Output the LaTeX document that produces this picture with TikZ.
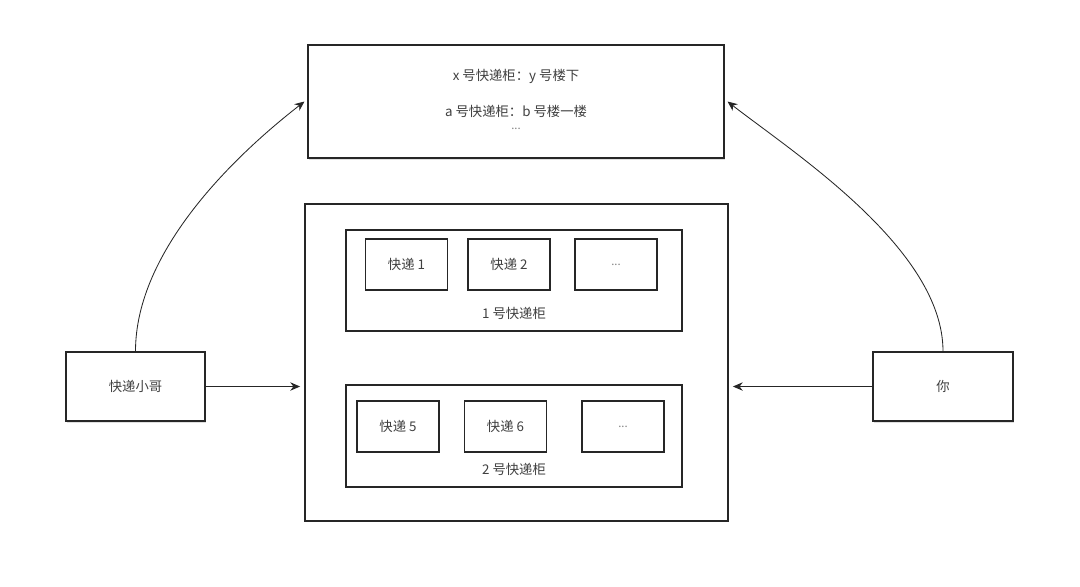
\documentclass[tikz,border=0pt]{standalone}
\usepackage{fontspec}
\setmainfont{Noto Sans CJK SC}
\usepackage{tikz}
\usetikzlibrary{shadows}
\usetikzlibrary{arrows.meta}

\begin{document}
\begin{tikzpicture}
    \tikzstyle{edge}  = [line width=0.6pt,draw=black!85]
    \tikzstyle{dedge} = [edge,-{Stealth[length=7pt,width=6pt]}]
    \tikzstyle{sbox}=[
      rectangle,
      draw=black!85,
      line width=1pt,
      fill=white,
      anchor=center,
      text=black!75,
      font=\fontsize{9.5}{11}\selectfont,
    ]
    \tikzstyle{sboxs}=[
      sbox,
      drop shadow={shadow xshift=1pt,shadow yshift=-1.5pt,fill=black!25},
    ]
    \tikzstyle{label}=[
      text=black!75,
      font=\fontsize{9.5}{11}\selectfont,
      anchor=center,
    ]
    \tikzstyle{dots}=[
      font=\fontsize{8}{9}\selectfont,
      text=black!50,
    ]

    \useasboundingbox (0,0) rectangle (27,-14.65);

    {
      \node[sboxs, minimum width=10.4cm, minimum height=2.825cm] (table) at (12.9,-2.5375) {};
      \node[label] (t1) at (12.9,-1.9) {x 号快递柜：y 号楼下};
      \node[label] (t2) at (12.9,-2.775) {a 号快递柜：b 号楼一楼};
      \node[label, dots] (t3) at (12.9,-3.22) {...};
    }

    {
      \node[sbox, minimum width=10.575cm, minimum height=7.925cm] (hub) at (12.9125,-9.0625) {};

      \node[sbox, minimum width=8.4cm, minimum height=2.525cm] (c1) at (12.85,-7.0125) {};
      \node[label] (c1l) at (12.85,-7.825) {1 号快递柜};
      \node[sbox, minimum width=2.05cm, minimum height=1.275cm] (c11) at (10.1625,-6.6125) {快递 1};
      \node[sbox, minimum width=2.05cm, minimum height=1.275cm] (c12) at (12.725,-6.6125) {快递 2};
      \node[sbox, dots, minimum width=2.05cm, minimum height=1.275cm] (c13) at (15.4,-6.6125) {...};

      \node[sbox, minimum width=8.4cm, minimum height=2.55cm] (c2) at (12.85,-10.9) {};
      \node[label] (c2l) at (12.85,-11.725) {2 号快递柜};
      \node[sbox, minimum width=2.05cm, minimum height=1.275cm] (c21) at (9.95,-10.6625) {快递 5};
      \node[sbox, minimum width=2.05cm, minimum height=1.275cm] (c22) at (12.6375,-10.6625) {快递 6};
      \node[sbox, dots, minimum width=2.05cm, minimum height=1.275cm] (c23) at (15.575,-10.6625) {...};
    }

    {
      \node[sboxs, minimum width=3.475cm, minimum height=1.725cm] (courier) at (3.3875,-9.6625) {快递小哥};
      \node[sboxs, minimum width=3.5cm, minimum height=1.725cm] (you) at (23.575,-9.6625) {你};
    }

    {
      \draw[dedge] (courier.east)--([xshift=-3pt]hub.west |- courier.east);
      \draw[dedge] (you.west)--([xshift=3pt]hub.east |- you.west);

      \draw[dedge] (courier.north) .. controls +(0,2.55) and +(-1.675,-1.3) .. ([xshift=-2pt]table.west);
      \draw[dedge] (you.north) .. controls +(0,2.55) and +(1.675,-1.3) .. ([xshift=2pt]table.east);
    }
\end{tikzpicture}
\end{document}
